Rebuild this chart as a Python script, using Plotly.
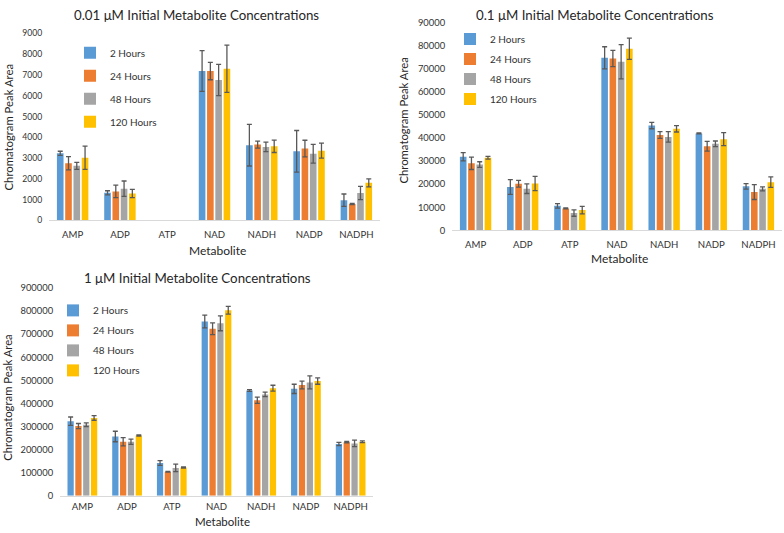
import plotly.graph_objects as go

W, H = 784, 533

categories = ["AMP", "ADP", "ATP", "NAD", "NADH", "NADP", "NADPH"]
series_names = ["2 Hours", "24 Hours", "48 Hours", "120 Hours"]
colors = ["#5B9BD5", "#ED7D31", "#A5A5A5", "#FFC000"]

panel_titles = ["0.01 μM Initial Metabolite Concentrations",
                "0.1 μM Initial Metabolite Concentrations",
                "1 μM Initial Metabolite Concentrations"]
y_title = "Chromatogram Peak Area"
x_title = "Metabolite"

# 0.01 uM
c001_2h = [3230, 1330, None, 7190, 3620, 3330, 975]
c001_24h = [2750, 1400, None, 7190, 3650, 3460, 790]
c001_48h = [2630, 1530, None, 6760, 3540, 3210, 1320]
c001_120h = [3020, 1300, None, 7300, 3570, 3360, 1810]
c001_err_2h = [100, 100, None, 980, 1000, 1000, 300]
c001_err_24h = [320, 300, None, 420, 170, 400, 30]
c001_err_48h = [170, 370, None, 750, 230, 450, 320]
c001_err_120h = [560, 200, None, 1140, 300, 360, 190]

# 0.1 uM
c01_2h = [31900, 18760, 10580, 74750, 45400, 42000, 19040]
c01_24h = [29050, 20170, 9450, 74470, 41300, 36400, 16550]
c01_48h = [28500, 18050, 7480, 73060, 40480, 37500, 17960]
c01_120h = [31450, 20300, 8750, 78700, 44000, 39500, 20870]
c01_err_2h = [1800, 3200, 1000, 4800, 1400, 200, 1200]
c01_err_24h = [2700, 1500, 200, 3500, 1500, 2100, 3200]
c01_err_48h = [1200, 2100, 1400, 7400, 2300, 1200, 850]
c01_err_120h = [600, 3100, 1600, 4600, 1400, 2800, 2300]

# 1 uM
c1_2h = [323000, 256500, 141700, 755000, 456000, 463000, 224000]
c1_24h = [302000, 234000, 103500, 724000, 413800, 480000, 232000]
c1_48h = [307500, 234000, 120500, 747000, 439000, 491000, 226700]
c1_120h = [337000, 260800, 121900, 803600, 466000, 497000, 233800]
c1_err_2h = [18000, 22700, 10000, 28000, 4000, 20000, 7000]
c1_err_24h = [11000, 17700, 1400, 25500, 13500, 17000, 2800]
c1_err_48h = [8500, 11300, 16000, 32000, 10000, 28000, 14000]
c1_err_120h = [10000, 2800, 2800, 17000, 12700, 14000, 4200]

y_ranges = [[0, 9000], [0, 90000], [0, 900000]]
y_dticks = [1000, 10000, 100000]

panels = [
    ([c001_2h, c001_24h, c001_48h, c001_120h],
     [c001_err_2h, c001_err_24h, c001_err_48h, c001_err_120h]),
    ([c01_2h, c01_24h, c01_48h, c01_120h],
     [c01_err_2h, c01_err_24h, c01_err_48h, c01_err_120h]),
    ([c1_2h, c1_24h, c1_48h, c1_120h],
     [c1_err_2h, c1_err_24h, c1_err_48h, c1_err_120h]),
]

FONT = "Lato"
TXT = "#333333"


def px(x):
    return x / W


def py(y):
    return 1 - y / H


# plot areas in pixels: (left, right, bottom(0 value), top(max value))
areas = [(49, 380, 219, 28), (452, 782, 229, 17), (60, 373, 500, 288)]
tick_sizes = [8.6, 9.4, 9.4]
xtick_len = [5, 5, 2]

fig = go.Figure()
legend_names = ["legend", "legend2", "legend3"]
for p, (vals, errs) in enumerate(panels):
    sfx = "" if p == 0 else str(p + 1)
    for i in range(4):
        fig.add_trace(go.Bar(
            x=categories, y=vals[i], name=series_names[i],
            marker=dict(color=colors[i], line=dict(width=0)),
            error_y=dict(type="data", array=errs[i], visible=True,
                         color="#595959", thickness=1.3, width=2.5),
            xaxis="x" + sfx, yaxis="y" + sfx,
            legend=legend_names[p], legendgroup=f"p{p}s{i}",
        ))

layout = dict(
    width=W, height=H, autosize=False,
    margin=dict(l=0, r=0, t=0, b=0),
    paper_bgcolor="white", plot_bgcolor="white",
    barmode="group", bargap=0.3, bargroupgap=0.2,
    font=dict(family=FONT, color=TXT),
)

for p, (l, r, b, t) in enumerate(areas):
    sfx = "" if p == 0 else str(p + 1)
    layout["xaxis" + sfx] = dict(
        domain=[px(l), px(r)], anchor="y" + sfx,
        showline=True, linecolor="#D9D9D9", linewidth=1,
        showgrid=False, ticks="outside", ticklen=xtick_len[p],
        tickcolor="rgba(0,0,0,0)",
        tickfont=dict(size=9.6, color=TXT, family=FONT),
        fixedrange=True,
    )
    layout["yaxis" + sfx] = dict(
        domain=[py(b), py(t)], anchor="x" + sfx,
        range=y_ranges[p], dtick=y_dticks[p], tick0=0, tickformat="d",
        showgrid=False, showline=False, zeroline=False,
        ticks="outside", ticklen=4, tickcolor="rgba(0,0,0,0)",
        tickfont=dict(size=tick_sizes[p], color=TXT, family=FONT),
        fixedrange=True,
    )

legend_pos = [(70, 33, 4), (450, 19, 1), (53, 296, 1)]
for p, (lx, ly, gap) in enumerate(legend_pos):
    layout[legend_names[p]] = dict(
        x=px(lx), y=py(ly), xanchor="left", yanchor="top",
        bgcolor="rgba(0,0,0,0)", borderwidth=0,
        font=dict(size=10, color=TXT, family=FONT),
        traceorder="grouped", tracegroupgap=gap,
        itemclick=False, itemdoubleclick=False,
    )

fig.update_layout(**layout)

# (x center, y, yanchor)
title_pos = [(196, 0, "top"), (595, 0, "top"), (197, 278, "middle")]
ytitle_pos = [(8, 124), (404, 117), (8, 400)]
xtitle_pos = [(217, 250, "middle", 12), (619, 258, "middle", 12),
              (222, 534, "bottom", 11.5)]

for p in range(3):
    tx, ty, tya = title_pos[p]
    fig.add_annotation(x=px(tx), y=py(ty), xref="paper", yref="paper",
                       text=panel_titles[p], showarrow=False,
                       xanchor="center", yanchor=tya, borderpad=0,
                       font=dict(size=13.3, color="#262626", family=FONT))
    ax_, ay_ = ytitle_pos[p]
    fig.add_annotation(x=px(ax_), y=py(ay_), xref="paper", yref="paper",
                       text=y_title, showarrow=False, textangle=-90,
                       xanchor="center", yanchor="middle",
                       font=dict(size=11.3, color="#262626", family=FONT))
    bx, by, bya, bfs = xtitle_pos[p]
    fig.add_annotation(x=px(bx), y=py(by), xref="paper", yref="paper",
                       text=x_title, showarrow=False,
                       xanchor="center", yanchor=bya, borderpad=0,
                       font=dict(size=bfs, color="#262626", family=FONT))

fig.write_html("out.html", config={"displayModeBar": False},
               post_script="document.body.style.margin='0';document.body.style.overflow='hidden';")
